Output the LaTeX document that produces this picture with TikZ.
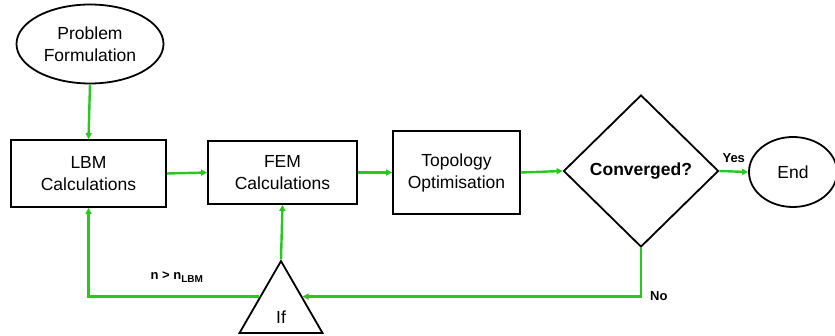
\documentclass[tikz,border=0pt]{standalone}
\usepackage{fontspec}
\setmainfont{Liberation Sans}
\usetikzlibrary{shapes.geometric,arrows.meta,calc}
\definecolor{flowgreen}{RGB}{40,200,30}
\tikzset{
  base/.style={draw=black,line width=1.8pt,align=center,inner sep=0pt,
    font=\fontsize{17.5}{22}\selectfont},
  procbox/.style={base,rectangle},
  oval/.style={base,ellipse},
  decide/.style={base,diamond,font=\fontsize{17.5}{22}\selectfont\bfseries},
  tri/.style={base,regular polygon,regular polygon sides=3},
  link/.style={draw=flowgreen,line width=2.4pt,-{Triangle[length=6pt,width=6pt]}},
  lbl/.style={font=\fontsize{13}{15}\selectfont\bfseries,inner sep=0pt}
}
\begin{document}
\begin{tikzpicture}[x=1pt,y=-1pt]
\useasboundingbox (0,0) rectangle (835,336);
\node[oval,minimum width=147pt,minimum height=79pt] (pf) at (90,44) {Problem\\Formulation};
\node[procbox,minimum width=155pt,minimum height=67pt] (lbm) at (88.5,173.5) {LBM\\Calculations};
\node[procbox,minimum width=149pt,minimum height=63pt] (fem) at (282.5,172.5) {FEM\\Calculations};
\node[procbox,minimum width=127pt,minimum height=83pt] (top) at (456.5,172.5) {Topology\\Optimisation};
\node[decide,minimum width=155pt,minimum height=152pt] (conv) at (641,171) {Converged?};
\node[oval,minimum width=88pt,minimum height=70pt] (end) at (793,172) {End};
\node[tri,minimum size=95.8pt,
  label={[font=\fontsize{17.5}{22}\selectfont,inner sep=0pt,yshift=-8pt]center:If}] (if) at (281,309) {};

\draw[link] (pf.south) -- (lbm.north);
\draw[link] (lbm.east) -- (fem.west);
\draw[link] (fem.east) -- (top.west);
\draw[link] (top.east) -- (conv.west);
\draw[link] (conv.east) -- node[lbl,above=8pt] {Yes} (end.west);
\draw[link] (conv.south) -- (conv.south |- if.side 3) coordinate (nocorner) -- (if.side 3);
\node[lbl,anchor=west] (no) at ($(nocorner)+(9,0)$) {No};
\draw[link] (if.corner 1) -- (fem.south);
\draw[link] (if.side 1) -- (lbm.south |- if.side 1) coordinate (leftcorner) -- (lbm.south);
\node[lbl] (cond) at (177,277) {n > n\textsubscript{\fontsize{10}{12}\selectfont LBM}};
\end{tikzpicture}
\end{document}
